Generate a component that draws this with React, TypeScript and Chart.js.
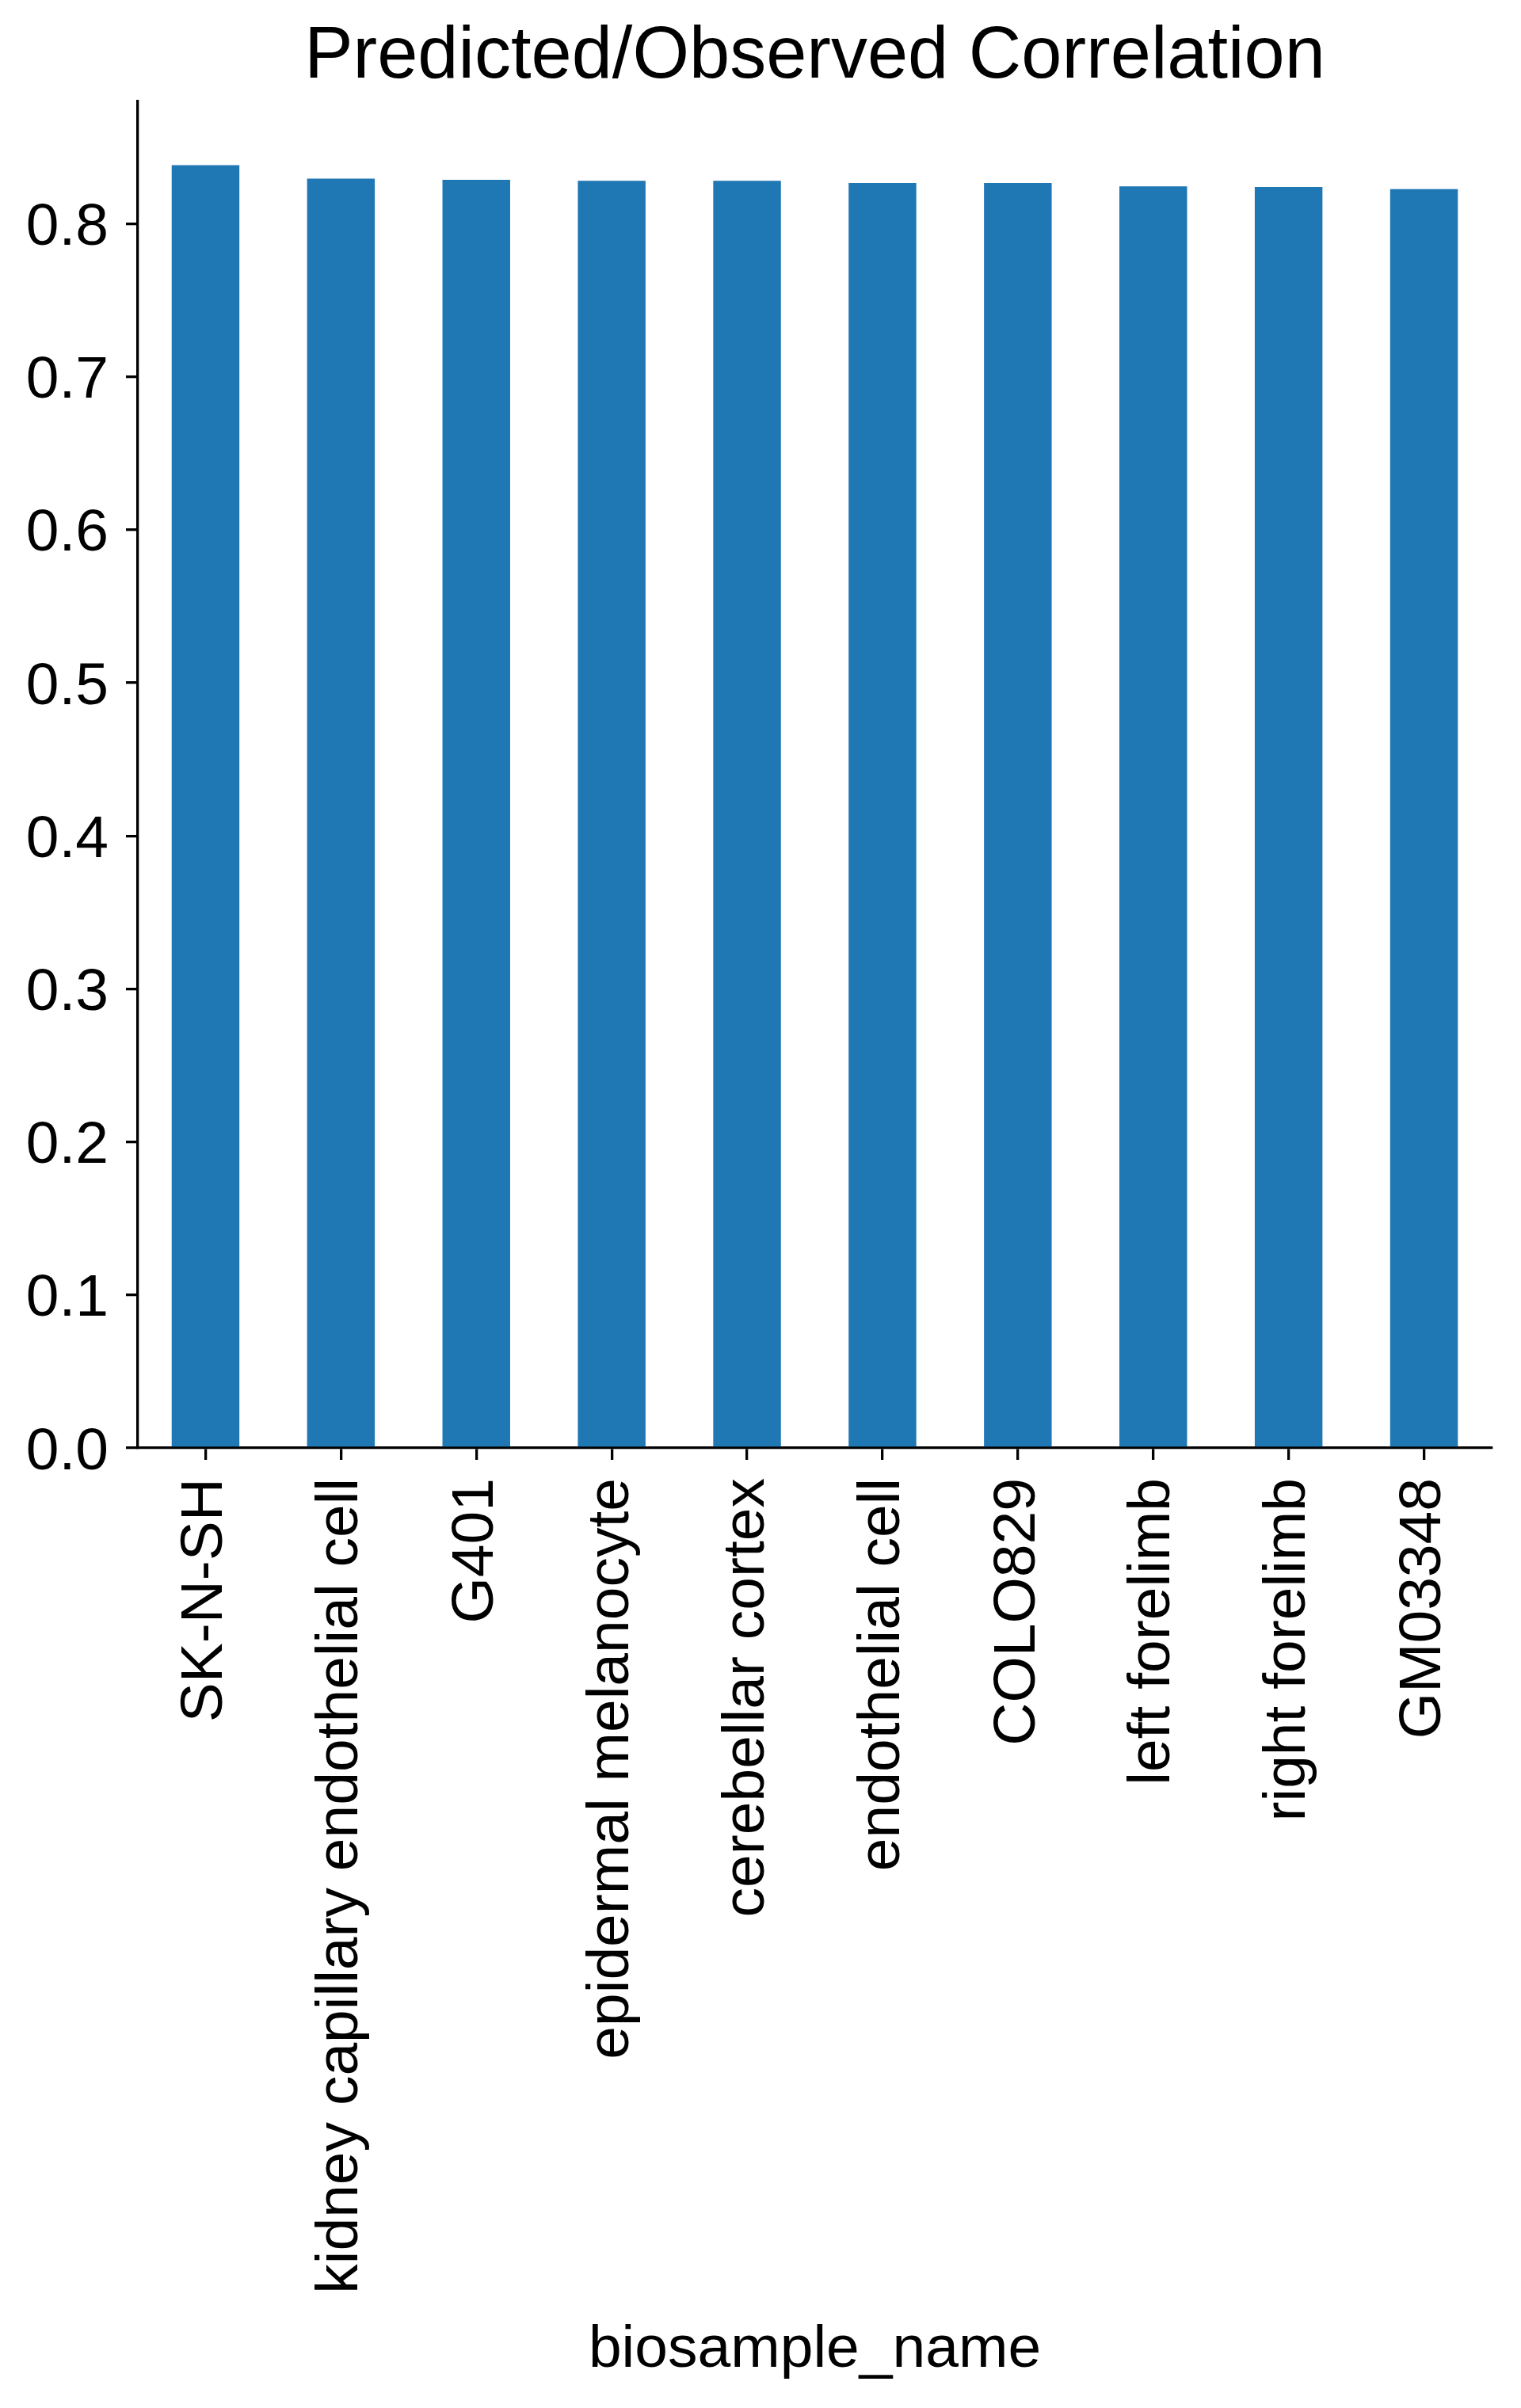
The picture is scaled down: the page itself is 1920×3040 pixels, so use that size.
import React, { useEffect, useRef } from "react";
import { Chart, registerables } from "chart.js";

Chart.register(...registerables);

// ---- data ----
const categories = [
  "SK-N-SH",
  "kidney capillary endothelial cell",
  "G401",
  "epidermal melanocyte",
  "cerebellar cortex",
  "endothelial cell",
  "COLO829",
  "left forelimb",
  "right forelimb",
  "GM03348",
];
const correlation = [0.8383, 0.8294, 0.8287, 0.828, 0.828, 0.8266, 0.8266, 0.8244, 0.824, 0.8226];
const yTickValues = [0, 0.1, 0.2, 0.3, 0.4, 0.5, 0.6, 0.7, 0.8];
const yTickLabels = ["0.0", "0.1", "0.2", "0.3", "0.4", "0.5", "0.6", "0.7", "0.8"];
const titleText = "Predicted/Observed Correlation";
const xAxisTitle = "biosample_name";

const W = 1920;
const H = 3040;
const FONT = "'Liberation Sans', Arial, Helvetica, sans-serif";
const LW = 3.3;

export default function App() {
  const ref = useRef<HTMLCanvasElement | null>(null);

  useEffect(() => {
    document.body.style.margin = "0";
    const canvas = ref.current;
    if (!canvas) return;
    const yMax = Math.max(...correlation) * 1.05;
    const chart = new Chart(canvas, {
      type: "bar",
      data: {
        labels: categories,
        datasets: [
          {
            label: "correlation",
            data: correlation,
            backgroundColor: "#1f77b4",
            borderWidth: 0,
            barPercentage: 0.5,
            categoryPercentage: 1.0,
          },
        ],
      },
      options: {
        animation: false,
        responsive: false,
        devicePixelRatio: 1,
        layout: { padding: { left: 0, right: 37, top: 0, bottom: 0 } },
        plugins: {
          legend: { display: false },
          tooltip: { enabled: false },
          title: {
            display: true,
            text: titleText,
            fullSize: false,
            color: "#000",
            font: { family: FONT, size: 92, weight: "normal" },
            padding: { top: 17, bottom: 0 },
          },
        },
        scales: {
          x: {
            type: "category",
            offset: true,
            grid: {
              offset: false,
              drawOnChartArea: false,
              drawTicks: true,
              tickLength: 15,
              tickWidth: LW,
              tickColor: "#000",
              lineWidth: LW,
              color: "#000",
            },
            border: { display: true, color: "#000", width: LW },
            ticks: {
              autoSkip: false,
              minRotation: 90,
              maxRotation: 90,
              padding: 23,
              color: "#000",
              font: { family: FONT, size: 75 },
            },
            title: {
              display: true,
              text: xAxisTitle,
              color: "#000",
              font: { family: FONT, size: 75 },
              padding: { top: 0, bottom: 28 },
            },
            afterFit: (scale: any) => {
              scale.height = H - 1828;
            },
          },
          y: {
            type: "linear",
            min: 0,
            max: yMax,
            grid: {
              drawOnChartArea: false,
              drawTicks: true,
              tickLength: 15,
              tickWidth: LW,
              tickColor: "#000",
              lineWidth: LW,
              color: "#000",
            },
            border: { display: true, color: "#000", width: LW },
            afterBuildTicks: (scale: any) => {
              scale.ticks = yTickValues.map((v) => ({ value: v }));
            },
            ticks: {
              padding: 22,
              labelOffset: 6,
              color: "#000",
              font: { family: FONT, size: 75 },
              callback: (value: any) => {
                const i = yTickValues.findIndex((v) => Math.abs(v - Number(value)) < 1e-9);
                return i >= 0 ? yTickLabels[i] : "";
              },
            },
            afterFit: (scale: any) => {
              scale.width = 174;
            },
          },
        },
      },
    });
    return () => chart.destroy();
  }, []);

  return (
    <canvas
      ref={ref}
      width={W}
      height={H}
      style={{ display: "block", width: W, height: H }}
    />
  );
}
